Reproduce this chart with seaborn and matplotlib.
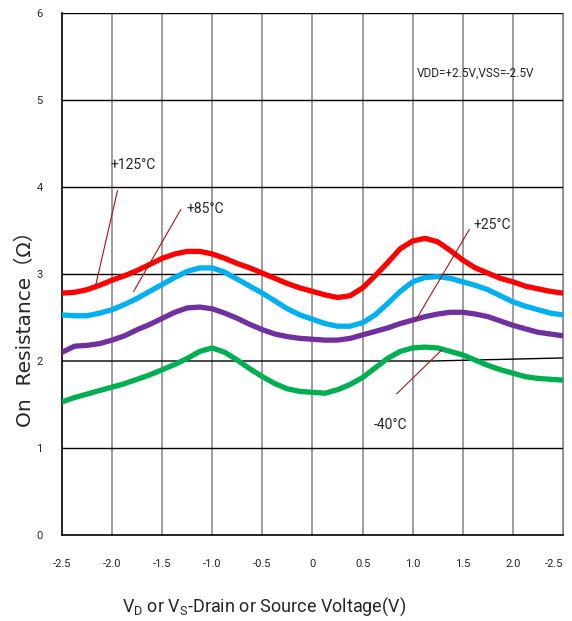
import numpy as np
import pandas as pd
import seaborn as sns
import matplotlib.pyplot as plt

# values (Ohm vs volts)
volts = [-2.5, -2.375, -2.25, -2.125, -2.0, -1.875, -1.75, -1.625, -1.5, -1.375,
         -1.25, -1.125, -1.0, -0.875, -0.75, -0.625, -0.5, -0.375, -0.25, -0.125,
         0.0, 0.125, 0.25, 0.375, 0.5, 0.625, 0.75, 0.875, 1.0, 1.125,
         1.25, 1.375, 1.5, 1.625, 1.75, 1.875, 2.0, 2.125, 2.25, 2.375, 2.5]
r_125 = [2.78, 2.79, 2.82, 2.87, 2.93, 2.98, 3.04, 3.11, 3.18, 3.23,
         3.26, 3.26, 3.23, 3.18, 3.12, 3.07, 3.01, 2.95, 2.89, 2.84,
         2.80, 2.76, 2.73, 2.75, 2.84, 2.98, 3.13, 3.29, 3.38, 3.41,
         3.37, 3.27, 3.16, 3.07, 3.01, 2.95, 2.91, 2.86, 2.83, 2.80, 2.78]
r_85 = [2.53, 2.52, 2.52, 2.55, 2.59, 2.65, 2.72, 2.80, 2.88, 2.96,
        3.03, 3.07, 3.07, 3.02, 2.94, 2.86, 2.78, 2.69, 2.60, 2.53,
        2.48, 2.43, 2.40, 2.40, 2.44, 2.53, 2.66, 2.80, 2.91, 2.96,
        2.97, 2.95, 2.91, 2.87, 2.82, 2.75, 2.68, 2.63, 2.59, 2.55, 2.53]
r_25 = [2.10, 2.17, 2.18, 2.20, 2.24, 2.29, 2.36, 2.42, 2.49, 2.56,
        2.61, 2.62, 2.60, 2.55, 2.49, 2.42, 2.36, 2.31, 2.28, 2.26,
        2.25, 2.24, 2.24, 2.26, 2.30, 2.34, 2.38, 2.43, 2.47, 2.51,
        2.54, 2.56, 2.56, 2.54, 2.51, 2.46, 2.41, 2.37, 2.33, 2.31, 2.29]
r_m40 = [1.53, 1.58, 1.62, 1.66, 1.70, 1.74, 1.79, 1.84, 1.90, 1.96,
         2.03, 2.11, 2.15, 2.10, 2.01, 1.91, 1.82, 1.74, 1.68, 1.65,
         1.64, 1.63, 1.67, 1.73, 1.81, 1.92, 2.03, 2.11, 2.15, 2.16,
         2.15, 2.11, 2.07, 2.01, 1.95, 1.90, 1.86, 1.82, 1.80, 1.79, 1.78]

x_ticks = [-2.5, -2.0, -1.5, -1.0, -0.5, 0, 0.5, 1.0, 1.5, 2.0, 2.5]
x_labels = ["-2.5", "-2.0", "-1.5", "-1.0", "-0.5", "0", "0.5", "1.0", "1.5", "2.0", "-2.5"]
y_ticks = [0, 1, 2, 3, 4, 5, 6]

series = {"+125°C": r_125, "+85°C": r_85, "+25°C": r_25, "-40°C": r_m40}
colors = {"+125°C": "#ff0000", "+85°C": "#00b0f0", "+25°C": "#7030a0", "-40°C": "#00b050"}

df = pd.concat([pd.DataFrame({"V": volts, "R": v, "T": k}) for k, v in series.items()])

narrow = ["Roboto", "DejaVu Sans"]

sns.set_style("white")
fig = plt.figure(figsize=(5.72, 6.21), dpi=100)
ax = fig.add_axes([62 / 572, 86 / 621, 501 / 572, 522 / 621])

# grid: grey verticals, black horizontals
for xv in x_ticks[1:]:
    ax.axvline(xv, color="#8c8c8c", lw=1.2, zorder=0)
for yv in [1, 3, 4, 5, 6]:
    ax.axhline(yv, color="black", lw=1, zorder=0)
ax.plot([-2.5, 1.2, 2.5], [2.0, 2.0, 2.035], color="black", lw=1, zorder=0)

sns.lineplot(data=df, x="V", y="R", hue="T", palette=colors, ax=ax,
             lw=3.8, legend=False, zorder=3)

ax.set_xlim(-2.5, 2.5)
ax.set_ylim(0, 6)
ax.set_xticks(x_ticks)
ax.set_xticklabels(x_labels, family=narrow, fontsize=8)
ax.get_xticklabels()[-1].set_ha("right")
ax.set_yticks(y_ticks)
ax.set_yticklabels([str(t) for t in y_ticks], family=narrow, fontsize=8)
ax.tick_params(axis="x", length=0, pad=17)
ax.tick_params(axis="y", length=0, pad=14)
ax.set_xlabel("")
ax.set_ylabel("")
for s in ["left", "bottom"]:
    ax.spines[s].set_color("black")
    ax.spines[s].set_linewidth(1.2)
ax.spines["right"].set_color("#8c8c8c")
ax.spines["top"].set_visible(False)

# leader lines and temperature labels
lead = dict(arrowstyle="-", color="#b01010", lw=0.8)
ax.annotate("", xy=(-2.17, 2.84), xytext=(-1.94, 3.99), arrowprops=lead)
ax.annotate("", xy=(-1.80, 2.77), xytext=(-1.30, 3.77), arrowprops=lead)
ax.annotate("", xy=(1.01, 2.43), xytext=(1.58, 3.54), arrowprops=lead)
ax.annotate("", xy=(0.82, 1.60), xytext=(1.31, 2.15), arrowprops=lead)
ax.text(-2.02, 4.25, "+125°C", family=narrow, fontsize=10, va="center")
ax.text(-1.26, 3.75, "+85°C", family=narrow, fontsize=10, va="center")
ax.text(1.61, 3.56, "+25°C", family=narrow, fontsize=10, va="center")
ax.text(0.61, 1.26, "-40°C", family=narrow, fontsize=10, va="center")
ax.text(1.04, 5.31, "VDD=+2.5V,VSS=-2.5V", family=narrow, fontsize=8.5, va="center")

fig.text(25 / 572, 1 - 324 / 621, "On  Resistance（Ω）", rotation=90,
         ha="center", va="center", fontsize=14.5,
         family=["DejaVu Sans", "Noto Sans CJK JP"])
fig.text(264 / 572, 1 - 607 / 621,
         r"V$\mathregular{_D}$ or V$\mathregular{_S}$-Drain or Source Voltage(V)",
         ha="center", va="center", fontsize=13, family=narrow)

fig.savefig("out.png", dpi=100)
